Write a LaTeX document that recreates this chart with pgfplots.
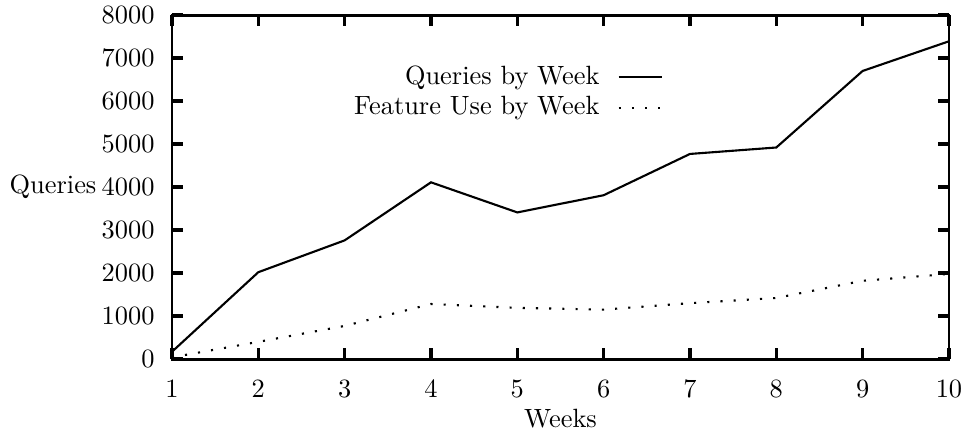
\documentclass[border=0pt]{standalone}
\usepackage{pgfplots}
\pgfplotsset{compat=1.18}
\begin{document}
\begin{tikzpicture}
\begin{axis}[
  name=ax,
  scale only axis,
  width=294.3pt, height=130.3pt,
  xmin=1, xmax=10, ymin=0, ymax=8000,
  xtick={1,2,...,10},
  ytick={0,1000,...,8000},
  tick align=inside,
  major tick length=4pt,
  axis line style={line width=1.1pt},
  every tick/.style={black, line width=1.2pt},
  scaled y ticks=false,
  yticklabel style={xshift=-3.1pt},
  xticklabel style={yshift=-4.7pt},
  /pgf/number format/1000 sep={},
  every axis y label/.style={at={(rel axis cs:0,0.5)}, anchor=east, xshift=-25.1pt},
  every axis x label/.style={at={(rel axis cs:0.5,0)}, anchor=north, yshift=-15.3pt},
  ylabel={Queries},
  xlabel={Weeks},
  legend plot pos=right,
  legend cell align=right,
  legend style={at={(rel axis cs:0.633,0.87)}, anchor=north east, draw=none, fill=none, inner sep=0pt, row sep=-0.8pt},
  legend image code/.code={\path (0cm,0cm); \draw[#1] (0.17cm,0cm) -- (0.75cm,0cm);},
]
\addplot[black, line width=0.8pt] coordinates {
(1,170) (2,2020) (3,2760) (4,4110) (5,3410) (6,3810) (7,4770) (8,4920) (9,6700) (10,7390)
};
\addlegendentry{Queries by Week}
\addplot[black, line width=0.8pt, dash pattern=on 0.8pt off 4.2pt] coordinates {
(1,40) (2,400) (3,770) (4,1280) (5,1190) (6,1150) (7,1300) (8,1420) (9,1820) (10,1980)
};
\addlegendentry{Feature Use by Week}
\end{axis}
\pgfresetboundingbox
\path[use as bounding box] ([xshift=-65.15pt,yshift=-27.65pt]ax.south west) rectangle ([xshift=5.7pt,yshift=5.7pt]ax.north east);
\end{tikzpicture}
\end{document}
